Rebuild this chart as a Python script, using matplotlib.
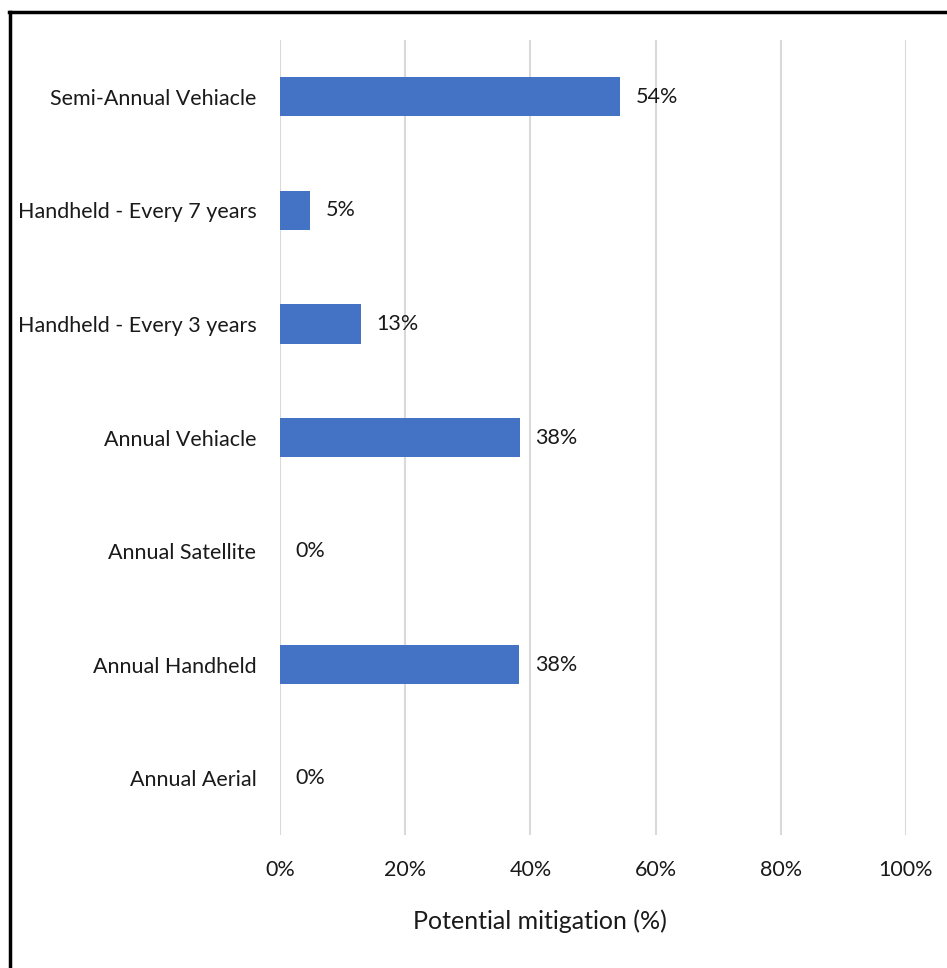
import matplotlib
matplotlib.use("Agg")
import matplotlib.pyplot as plt
from matplotlib.lines import Line2D

# data, bottom to top as drawn
categories = ["Annual Aerial", "Annual Handheld", "Annual Satellite", "Annual Vehiacle",
              "Handheld - Every 3 years", "Handheld - Every 7 years", "Semi-Annual Vehiacle"]
values = [0.0, 38.2, 0.0, 38.3, 12.9, 4.8, 54.3]
labels = ["0%", "38%", "0%", "38%", "13%", "5%", "54%"]
xticks = [0, 20, 40, 60, 80, 100]

plt.rcParams["font.family"] = ["Lato", "DejaVu Sans"]

fig = plt.figure(figsize=(9.47, 9.68), dpi=100)
ax = fig.add_axes([280/947, 1 - 835/968, 626/947, 795/968])

y = range(len(categories))
ax.barh(y, values, height=0.345, color="#4472C4", zorder=3)
for i, v in enumerate(values):
    ax.text(v + 2.5, i, labels[i], va="center", ha="left", fontsize=15.5, color="#1a1a1a")

ax.set_xlim(0, 100)
ax.set_ylim(-0.5, len(categories) - 0.5)
ax.set_yticks(list(y))
ax.set_yticklabels(categories, fontsize=15.5)
ax.set_xticks(xticks)
ax.set_xticklabels([f"{t}%" for t in xticks], fontsize=15.5)
ax.tick_params(axis="both", length=0, colors="#1a1a1a")
ax.tick_params(axis="y", pad=17)
ax.tick_params(axis="x", pad=18)
ax.grid(axis="x", color="#d9d9d9", linewidth=1.5, zorder=0)
for s in ax.spines.values():
    s.set_visible(False)
ax.set_xlabel("Potential mitigation (%)", fontsize=18, color="#1a1a1a")
ax.xaxis.set_label_coords(0.415, -0.094)

# outer border (cut at right and bottom)
fig.add_artist(Line2D([9.5/947, 9.5/947], [0, 1 - 11.5/968], transform=fig.transFigure, color="black", linewidth=2.5))
fig.add_artist(Line2D([8.5/947, 1], [1 - 11.5/968, 1 - 11.5/968], transform=fig.transFigure, color="black", linewidth=2.5))

fig.savefig("out.png", dpi=100)
